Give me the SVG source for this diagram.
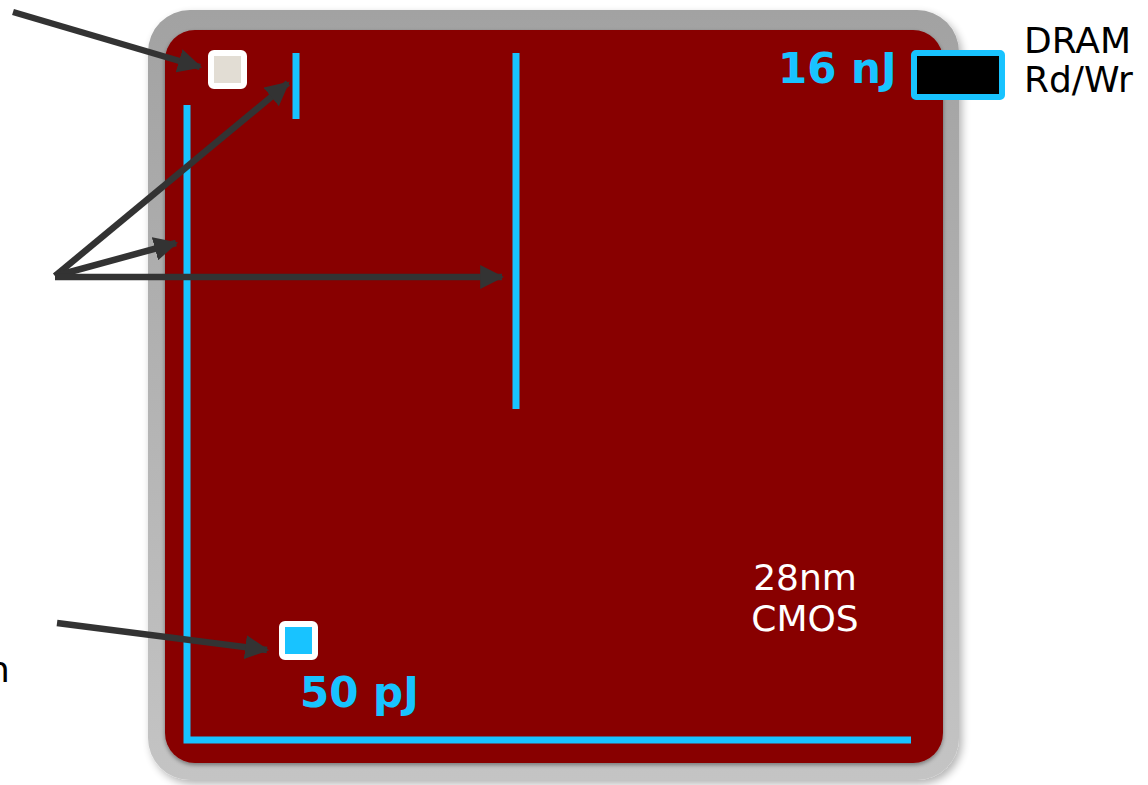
<svg xmlns="http://www.w3.org/2000/svg" width="1148" height="785" viewBox="0 0 1148 785">
<style>
.cy{stroke:#18C3FF;stroke-width:7;fill:none}
.ar{stroke:#333333;stroke-width:6.5;fill:none;marker-end:url(#ah)}
.lbl{font-family:"DejaVu Sans",Verdana,sans-serif;font-size:36px}
.en{font-family:"DejaVu Sans",Verdana,sans-serif;font-size:42px;font-weight:bold;fill:#18C3FF}
</style>
<defs>
<linearGradient id="frame" x1="0" y1="0" x2="0" y2="1">
<stop offset="0" stop-color="#a2a2a2"/>
<stop offset="1" stop-color="#c4c4c4"/>
</linearGradient>
<filter id="sh" x="-5%" y="-5%" width="112%" height="112%">
<feGaussianBlur in="SourceAlpha" stdDeviation="4"/>
<feOffset dx="3" dy="4" result="b"/>
<feComponentTransfer><feFuncA type="linear" slope="0.3"/></feComponentTransfer>
<feMerge><feMergeNode/><feMergeNode in="SourceGraphic"/></feMerge>
</filter>
<filter id="ish" x="-5%" y="-5%" width="110%" height="110%">
<feGaussianBlur in="SourceAlpha" stdDeviation="2"/>
<feOffset dx="0" dy="2" result="b"/>
<feComponentTransfer><feFuncA type="linear" slope="0.4"/></feComponentTransfer>
<feMerge><feMergeNode/><feMergeNode in="SourceGraphic"/></feMerge>
</filter>
<marker id="ah" markerUnits="userSpaceOnUse" markerWidth="24" markerHeight="24" viewBox="0 0 22 22" refX="20" refY="11" orient="auto">
<path d="M0,0 L22,11 L0,22 Z" fill="#333333"/>
</marker>
</defs>
<rect width="1148" height="785" fill="#ffffff"/>
<g id="chip">
<rect x="148" y="10" width="811" height="770" rx="42" fill="url(#frame)" filter="url(#sh)"/>
<rect x="165" y="30" width="778" height="733" rx="30" fill="#880505" filter="url(#ish)"/>
</g>
<g id="wires">
<polyline class="cy" points="187,105 187,740 911,740"/>
<line class="cy" x1="296" y1="53" x2="296" y2="119"/>
<line class="cy" x1="516" y1="53" x2="516" y2="409"/>
</g>
<g id="sram-small">
<rect x="211" y="53" width="33" height="33" rx="3" fill="#E2DDD4" stroke="#ffffff" stroke-width="6"/>
</g>
<g id="reg">
<rect x="282" y="624" width="33" height="33" rx="3" fill="#18C3FF" stroke="#ffffff" stroke-width="6"/>
</g>
<g id="dram">
<rect x="914" y="53" width="88" height="44" rx="2" fill="#000000" stroke="#18C3FF" stroke-width="6"/>
<text class="lbl" x="1024" y="53" fill="#000000">DRAM</text>
<text class="lbl" x="1024" y="92" fill="#000000">Rd/Wr</text>
</g>
<g id="labels">
<text class="en" x="778" y="83">16 nJ</text>
<text class="en" x="300" y="707">50 pJ</text>
<text class="lbl" x="805" y="590" fill="#ffffff" text-anchor="middle">28nm</text>
<text class="lbl" x="805" y="631" fill="#ffffff" text-anchor="middle">CMOS</text>
<text class="lbl" x="-13" y="682" fill="#000000">n</text>
</g>
<g id="connectors">
<line class="ar" x1="13" y1="12" x2="200" y2="67"/>
<line class="ar" x1="55" y1="276" x2="288" y2="83"/>
<line class="ar" x1="55" y1="276" x2="176" y2="243"/>
<line class="ar" x1="55" y1="277" x2="502" y2="277"/>
<line class="ar" x1="57" y1="623" x2="267" y2="650"/>
</g>
</svg>
